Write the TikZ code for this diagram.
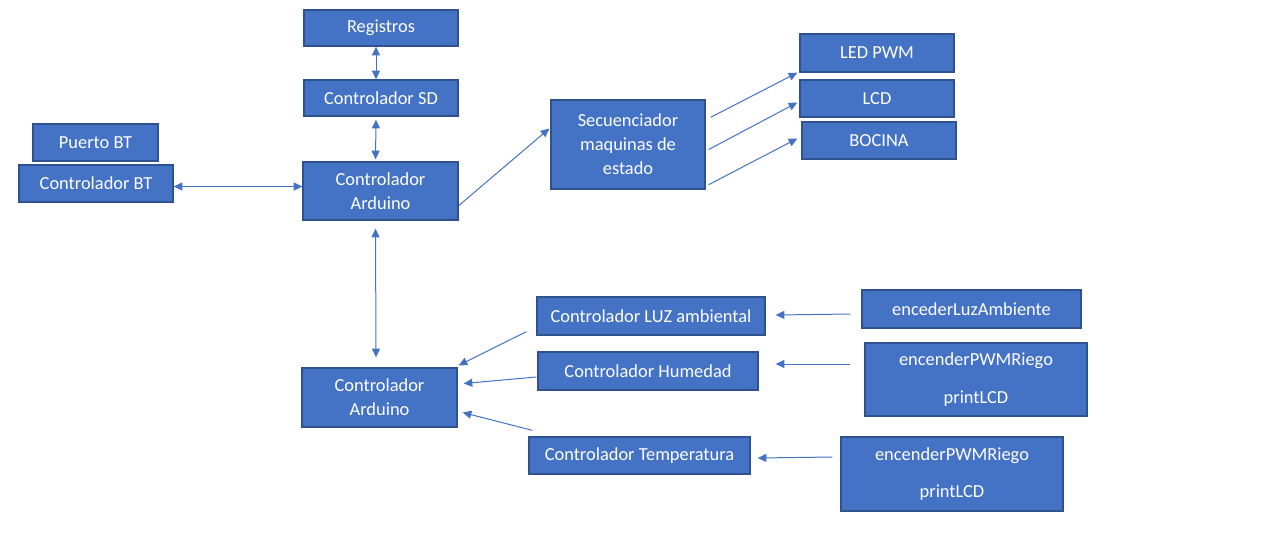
\documentclass[tikz,border=0pt]{standalone}
\usepackage{fontspec}
\setmainfont{Carlito}
\usetikzlibrary{arrows.meta,calc}
\definecolor{boxfill}{HTML}{4472C4}
\definecolor{boxline}{HTML}{2F528F}
\definecolor{arrowc}{HTML}{4472C4}
\tikzset{
  blk/.style={draw=boxline, fill=boxfill, line width=1pt, text=white, inner sep=0pt,
    align=center, font=\fontsize{13.8}{18}\selectfont},
  conn/.style={draw=arrowc, line width=0.75pt, -{Triangle[length=6.5pt,width=6pt]}},
  bconn/.style={draw=arrowc, line width=0.75pt, {Triangle[length=6.5pt,width=6pt]}-{Triangle[length=6.5pt,width=6pt]}}
}
\newcommand{\blkat}[6]{%
  \node[blk, minimum width={(#4-#2)*0.75pt}, minimum height={(#5-#3)*0.75pt}] (#1) at ({(#2+#4)/2},{(#3+#5)/2}) {#6};}
\begin{document}
\begin{tikzpicture}[x=0.75pt,y=-0.75pt]
\useasboundingbox[fill=white] (0,0) rectangle (1280,540);
\blkat{reg}{304}{10}{458}{46}{Registros}
\blkat{sd}{304}{80}{458}{116}{Controlador SD}
\blkat{pbt}{33}{124}{158}{161}{Puerto BT}
\blkat{cbt}{19}{165}{173}{202}{Controlador BT}
\blkat{arT}{303}{162}{458}{220}{Controlador\\Arduino}
\blkat{sec}{551}{100}{705}{189}{Secuenciador\\maquinas de\\estado}
\blkat{led}{800}{34}{954}{72}{LED PWM}
\blkat{lcd}{800}{80}{954}{117}{LCD}
\blkat{boc}{802}{122}{956}{159}{BOCINA}
\blkat{luz}{537}{297}{765}{335}{Controlador LUZ ambiental}
\blkat{hum}{538}{352}{758}{390}{Controlador Humedad}
\blkat{arB}{302}{368}{457}{427}{Controlador\\Arduino}
\blkat{tem}{529}{437}{750}{474}{Controlador Temperatura}
\blkat{eLuz}{862}{290}{1081}{328}{encederLuzAmbiente}
\blkat{eP1}{865}{343}{1087}{416}{encenderPWMRiego\\[10pt]printLCD}
\blkat{eP2}{841}{437}{1063}{511}{encenderPWMRiego\\[10pt]printLCD}
% vertical double arrows
\draw[bconn] ($(reg.south)+(-5,0)$) -- ($(sd.north)+(-5,0)$);
\draw[bconn] ($(sd.south)+(-5,3)$) -- ($(arT.north)+(-5,-2)$);
\draw[bconn] ($(cbt.east)+(0,3)$) -- ($(arT.west |- cbt.east)+(0,3)$);
\draw[bconn] ($(arT.south)+(-5,8)$) -- ($(arB.north)+(-3.5,-10)$);
% to sequencer
\draw[conn] ($(arT.south east)+(0,-15)$) -- ($(sec.west)+(-1,-16)$);
\draw[conn] ($(sec.north east)+(5,18)$) -- ($(led.south west)+(-2,0)$);
\draw[conn] ($(sec.east)+(3,5)$) -- ($(lcd.west)+(-2,4)$);
\draw[conn] ($(sec.south east)+(3,-5)$) -- ($(boc.west)+(-4,-2)$);
% inputs to bottom Arduino
\draw[conn] ($(luz.south west)+(-10,-4)$) -- ($(arB.north east)+(1,-2)$);
\draw[conn] ($(hum.west)+(-1,6)$) -- ($(arB.east)+(6,-14)$);
\draw[conn] ($(tem.north west)+(4,-6)$) -- ($(arB.east)+(5,15)$);
% function boxes to controllers
\draw[conn] ($(eLuz.west)+(-11,5)$) -- ($(luz.east)+(10,-1)$);
\draw[conn] ($(eP1.west)+(-14,-15.5)$) -- ($(hum.east)+(17,-7)$);
\draw[conn] ($(eP2.west)+(-8,-17)$) -- ($(tem.east)+(7,2.5)$);
\end{tikzpicture}
\end{document}
